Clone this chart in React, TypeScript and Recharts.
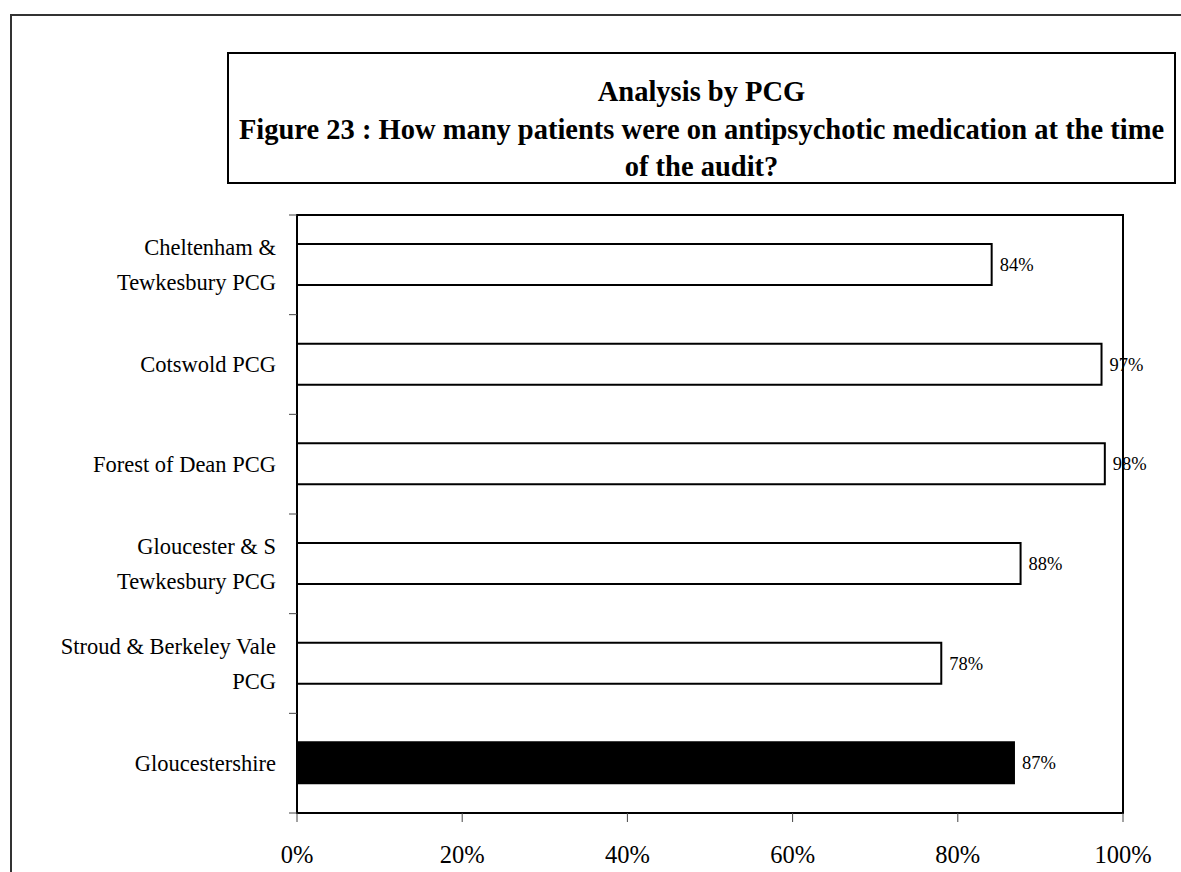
import { BarChart, Bar, XAxis, YAxis, Cell, LabelList, ReferenceArea } from 'recharts';

const categories = [
  'Cheltenham & Tewkesbury PCG',
  'Cotswold PCG',
  'Forest of Dean PCG',
  'Gloucester & S Tewkesbury PCG',
  'Stroud & Berkeley Vale PCG',
  'Gloucestershire',
];

// split points used when the category names wrap onto two lines
const categoryLines = [
  ['Cheltenham &', 'Tewkesbury PCG'],
  ['Cotswold PCG'],
  ['Forest of Dean PCG'],
  ['Gloucester & S', 'Tewkesbury PCG'],
  ['Stroud & Berkeley Vale', 'PCG'],
  ['Gloucestershire'],
];

const percentOnMedication = [84.1, 97.4, 97.8, 87.6, 78.0, 86.8];

const xTicks = [0, 20, 40, 60, 80, 100];

const titleLines = [
  'Analysis by PCG',
  'Figure 23 : How many patients were on antipsychotic medication at the time',
  'of the audit?',
];

const FONT = '"Liberation Serif", "Times New Roman", serif';

const W = 1181;
const H = 872;
const MARGIN = { top: 215, right: 58, bottom: 9, left: 17 };
const Y_AXIS_WIDTH = 280;
const X_AXIS_HEIGHT = 50;
const TICK_MARGIN = 20;
const PLOT_HEIGHT = H - MARGIN.top - MARGIN.bottom - X_AXIS_HEIGHT;
const BAND = PLOT_HEIGHT / categories.length;

const data = categories.map((name, i) => ({
  name,
  value: percentOnMedication[i],
  total: name === 'Gloucestershire',
}));

function CategoryTick(props: any) {
  const { x, y, payload, index } = props;
  const lines = categoryLines[categories.indexOf(payload.value)] || [payload.value];
  const lineH = 35;
  const startY = y - ((lines.length - 1) * lineH) / 2;
  const axisX = x + TICK_MARGIN;
  return (
    <g>
      {lines.map((ln, i) => (
        <text
          key={i}
          x={x - 1}
          y={startY + i * lineH}
          dy="0.35em"
          textAnchor="end"
          fontFamily={FONT}
          fontSize={22.5}
          fill="#000"
        >
          {ln}
        </text>
      ))}
      {/* tick marks sit on the band boundaries */}
      <line x1={axisX - 8} x2={axisX} y1={y - BAND / 2} y2={y - BAND / 2} stroke="#444" strokeWidth={1} />
      {index === categories.length - 1 && (
        <line x1={axisX - 8} x2={axisX} y1={y + BAND / 2} y2={y + BAND / 2} stroke="#444" strokeWidth={1} />
      )}
    </g>
  );
}

export default function App() {
  return (
    <div style={{ position: 'absolute', left: 0, top: 0, width: W, height: H, overflow: 'hidden', background: '#fff' }}>
      <div
        style={{
          position: 'absolute',
          left: 10,
          top: 14,
          width: 1220,
          height: 900,
          border: '2px solid #333',
          boxSizing: 'border-box',
        }}
      />
      <div style={{ position: 'absolute', left: 0, top: 0 }}>
        <BarChart width={W} height={H} data={data} layout="vertical" margin={MARGIN}>
          <XAxis
            type="number"
            domain={[0, 100]}
            ticks={xTicks}
            tickFormatter={(v: number) => `${v}%`}
            axisLine={false}
            tickLine={{ stroke: '#444', strokeWidth: 1 }}
            tickSize={9}
            tickMargin={24}
            height={X_AXIS_HEIGHT}
            tick={{ fontFamily: FONT, fontSize: 24.5, fill: '#000' }}
          />
          <YAxis
            type="category"
            dataKey="name"
            width={Y_AXIS_WIDTH}
            axisLine={false}
            tickLine={false}
            tickSize={0}
            tickMargin={TICK_MARGIN}
            interval={0}
            tick={<CategoryTick />}
          />
          <ReferenceArea x1={0} x2={100} fill="none" stroke="#000" strokeWidth={2} ifOverflow="visible" />
          <Bar dataKey="value" barSize={41} stroke="#000" strokeWidth={2} isAnimationActive={false}>
            {data.map((d) => (
              <Cell key={d.name} fill={d.total ? '#000' : '#fff'} />
            ))}
            <LabelList
              dataKey="value"
              position="right"
              offset={8}
              formatter={(v: number) => `${Math.round(v)}%`}
              style={{ fontFamily: FONT, fontSize: 18.5, fill: '#000' }}
            />
          </Bar>
        </BarChart>
      </div>
      <div
        style={{
          position: 'absolute',
          left: 227,
          top: 52,
          width: 949,
          height: 132,
          border: '2px solid #000',
          boxSizing: 'border-box',
          background: '#fff',
          paddingTop: 19,
          textAlign: 'center',
          fontFamily: FONT,
          fontWeight: 'bold',
          fontSize: 28.5,
          lineHeight: '37.5px',
          color: '#000',
          whiteSpace: 'nowrap',
        }}
      >
        {titleLines.map((t) => (
          <div key={t}>{t}</div>
        ))}
      </div>
    </div>
  );
}
